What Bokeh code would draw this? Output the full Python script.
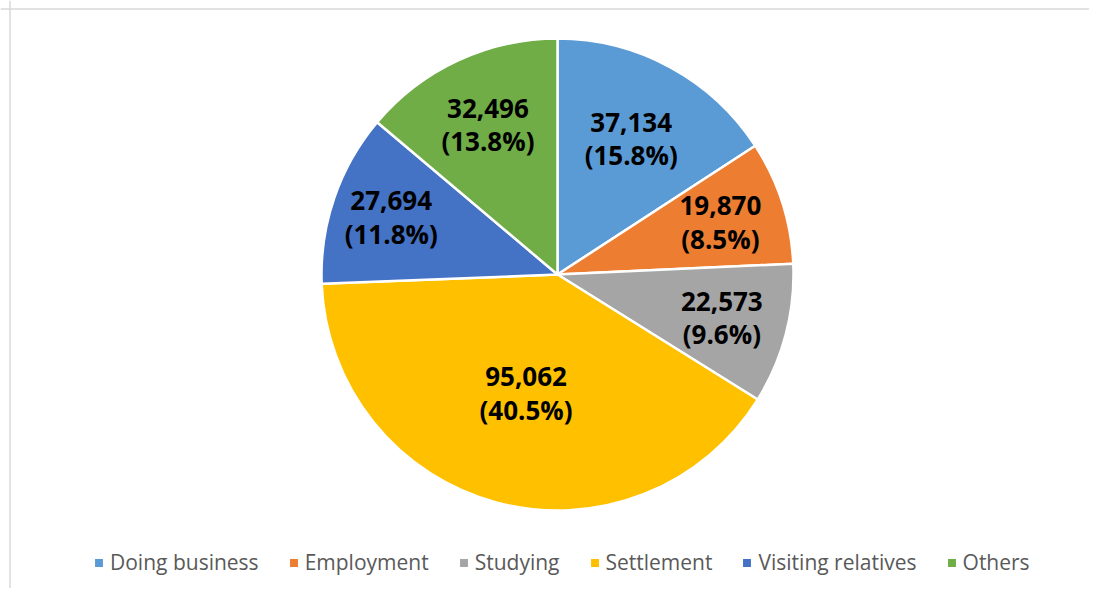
import math
from bokeh.plotting import figure
from bokeh.models import ColumnDataSource, Range1d, Span, Legend, LegendItem
from bokeh.core.properties import value
from bokeh.embed import file_html
from bokeh.resources import INLINE

categories = ["Doing business", "Employment", "Studying", "Settlement", "Visiting relatives", "Others"]
counts = [37134, 19870, 22573, 95062, 27694, 32496]
colors = ["#5B9BD5", "#ED7D31", "#A5A5A5", "#FFC000", "#4472C4", "#70AD47"]
label_radius_frac = [0.655, 0.725, 0.72, 0.52, 0.745, 0.70]

W, H = 1089, 588
CX, CY, R = 557, 314, 236
LINE_GAP = 16.5

total = sum(counts)
starts, ends, lx, ly_top, ly_bot, num_txt, pct_txt = [], [], [], [], [], [], []
cum = 0.0
for c, f in zip(counts, label_radius_frac):
    a0 = math.pi / 2 - 2 * math.pi * cum / total
    cum += c
    a1 = math.pi / 2 - 2 * math.pi * cum / total
    starts.append(a0)
    ends.append(a1)
    mid = (a0 + a1) / 2
    x = CX + f * R * math.cos(mid)
    y = CY + f * R * math.sin(mid)
    lx.append(x)
    ly_top.append(y + LINE_GAP)
    ly_bot.append(y - LINE_GAP)
    num_txt.append(f"{c:,}")
    pct_txt.append(f"({100 * c / total:.1f}%)")

src = ColumnDataSource(dict(cat=categories, start=starts, end=ends, color=colors,
                            lx=lx, ly_top=ly_top, ly_bot=ly_bot, num=num_txt, pct=pct_txt))

p = figure(width=W, height=H, output_backend="svg", toolbar_location=None,
           x_range=Range1d(0, W), y_range=Range1d(0, H), min_border=0,
           outline_line_color=None, background_fill_color="white")
p.axis.visible = False
p.grid.visible = False

p.add_layout(Span(location=H - 8.5, dimension="width", line_color="#D9D9D9", line_width=1.5))
p.add_layout(Span(location=9.5, dimension="height", line_color="#D9D9D9", line_width=1.5))

wr = p.wedge(x=CX, y=CY, radius=R, start_angle="start", end_angle="end", direction="clock",
             fill_color="color", line_color="white", line_width=2.5, source=src)

for col in ("num", "pct"):
    p.text(x="lx", y="ly_top" if col == "num" else "ly_bot", text=col, source=src,
           text_align="center", text_baseline="middle",
           text_font=value("Open Sans"), text_font_style="bold", text_font_size="26px",
           text_color="black")

items = [LegendItem(label=cat, renderers=[wr], index=i) for i, cat in enumerate(categories)]
legend = Legend(items=items, orientation="horizontal", location=(92, 12),
                label_text_font="Open Sans", label_text_font_size="21px",
                label_text_color="#595959", glyph_width=13, glyph_height=13,
                label_standoff=5, spacing=28, padding=0, margin=0,
                border_line_color=None, background_fill_alpha=0)
p.add_layout(legend, "center")

open("out.html", "w").write(file_html(p, INLINE))
